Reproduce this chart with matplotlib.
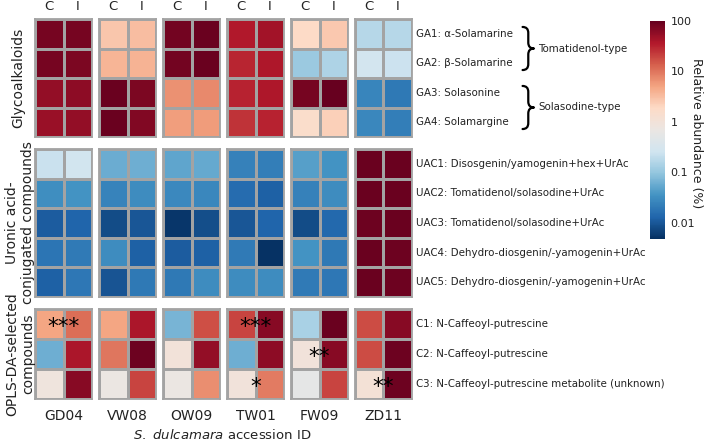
import numpy as np
import matplotlib
matplotlib.use("Agg")
import matplotlib.pyplot as plt
from matplotlib.colors import LogNorm, LinearSegmentedColormap
from matplotlib.path import Path
from matplotlib.patches import PathPatch

plt.rcParams['font.family'] = ['DejaVu Sans']

accessions = ["GD04", "VW08", "OW09", "TW01", "FW09", "ZD11"]
treatments = ["C", "I"]

ga_labels = ["GA1: α-Solamarine", "GA2: β-Solamarine", "GA3: Solasonine", "GA4: Solamargine"]
uac_labels = ["UAC1: Disosgenin/yamogenin+hex+UrAc",
              "UAC2: Tomatidenol/solasodine+UrAc",
              "UAC3: Tomatidenol/solasodine+UrAc",
              "UAC4: Dehydro-diosgenin/-yamogenin+UrAc",
              "UAC5: Dehydro-diosgenin/-yamogenin+UrAc"]
opls_labels = ["C1: N-Caffeoyl-putrescine", "C2: N-Caffeoyl-putrescine",
               "C3: N-Caffeoyl-putrescine metabolite (unknown)"]
ga_groups = [(0, 2, "Tomatidenol-type"), (2, 4, "Solasodine-type")]

# columns: GD04 C, GD04 I, VW08 C, VW08 I, OW09 C, OW09 I, TW01 C, TW01 I, FW09 C, FW09 I, ZD11 C, ZD11 I
ga_values = [
    [80, 80, 2.8, 3.2, 85, 95, 37, 45, 1.9, 2.6, 0.17, 0.17],
    [80, 75, 3.7, 3.9, 85, 95, 30, 38, 0.11, 0.15, 0.28, 0.24],
    [55, 60, 95, 75, 6.8, 7.5, 32, 38, 80, 100, 0.026, 0.02],
    [50, 55, 95, 70, 5.5, 5.8, 25, 32, 1.6, 2.3, 0.027, 0.022],
]
uac_values = [
    [0.23, 0.27, 0.058, 0.06, 0.05, 0.055, 0.024, 0.022, 0.045, 0.035, 95, 95],
    [0.032, 0.035, 0.025, 0.03, 0.028, 0.027, 0.015, 0.012, 0.024, 0.03, 95, 95],
    [0.011, 0.013, 0.008, 0.01, 0.0055, 0.0085, 0.01, 0.013, 0.008, 0.014, 92, 95],
    [0.018, 0.021, 0.03, 0.012, 0.011, 0.012, 0.021, 0.005, 0.035, 0.02, 95, 90],
    [0.012, 0.019, 0.0095, 0.02, 0.02, 0.03, 0.03, 0.03, 0.021, 0.019, 95, 92],
]
opls_values = [
    [5, 11, 5, 40, 0.07, 17, 20, 65, 0.14, 95, 18, 65],
    [0.06, 40, 10, 90, 1.0, 55, 0.06, 60, 0.95, 65, 18, 90],
    [0.85, 65, 0.7, 20, 0.7, 7, 0.95, 9, 0.55, 20, 1.1, 90],
]
# significance marks: (accession, row in OPLS block, text)
stars = [("GD04", 0, "***"), ("TW01", 0, "***"), ("FW09", 1, "**"),
         ("TW01", 2, "*"), ("ZD11", 2, "**")]

cbar_ticks = [0.01, 0.1, 1, 10, 100]
cbar_ticklabels = ["0.01", "0.1", "1", "10", "100"]

W, H = 705, 442
fig = plt.figure(figsize=(W / 100, H / 100), dpi=100)
norm = LogNorm(vmin=0.0048, vmax=100)
cmap = LinearSegmentedColormap.from_list(
    "rdbu_gray",
    ["#053061", "#2166ac", "#4393c3", "#92c5de", "#d1e5f0", "#ebe6e3",
     "#fddbc7", "#f4a582", "#d6604d", "#b2182b", "#67001f"])
grid_col = "#a3a3a3"
txt_col = "#222222"

def ax_px(x, y, w, h):
    return fig.add_axes([x / W, 1 - (y + h) / H, w / W, h / H])

blocks = [
    (ga_values, ga_labels, 19, 137),
    (uac_values, uac_labels, 149, 297),
    (opls_values, opls_labels, 309, 399),
]
panel_x0, panel_w, panel_step = 35, 57, 64

axes_grid = []
for bi, (vals, labels, y0, y1) in enumerate(blocks):
    arr = np.array(vals, dtype=float)
    nrow = arr.shape[0]
    row_axes = []
    for pi, acc in enumerate(accessions):
        ax = ax_px(panel_x0 + pi * panel_step, y0, panel_w, y1 - y0)
        sub = arr[:, 2 * pi:2 * pi + 2]
        ax.pcolormesh(np.arange(3), np.arange(nrow + 1), sub, cmap=cmap, norm=norm,
                      edgecolors=grid_col, linewidth=1.0)
        ax.set_xlim(0, 2)
        ax.set_ylim(nrow, 0)
        ax.set_xticks([])
        ax.set_yticks([])
        for s in ax.spines.values():
            s.set_color(grid_col)
            s.set_linewidth(1.3)
        if bi == 0:
            for ti, t in enumerate(treatments):
                ax.text(ti + 0.5, -0.2, t, ha="center", va="bottom", fontsize=9.5,
                        color=txt_col, clip_on=False)
        if bi == 2:
            ax.text(1, nrow + 0.32, acc, ha="center", va="top", fontsize=10,
                    color=txt_col, clip_on=False)
            for sacc, srow, stext in stars:
                if sacc == acc:
                    ax.text(1, srow + 0.6, stext, ha="center", va="center",
                            fontsize=15.5, color="black", clip_on=False)
        if pi == len(accessions) - 1:
            for ri, lab in enumerate(labels):
                ax.text(2.15, ri + 0.5, lab, ha="left", va="center", fontsize=7.4,
                        color=txt_col, clip_on=False)
        row_axes.append(ax)
    axes_grid.append(row_axes)

# curly braces for glycoalkaloid groups
last_ga = axes_grid[0][-1]

def brace(ax, r0, r1, xb, label):
    ytop, ybot = r0 + 0.27, r1 - 0.27
    ym = (ytop + ybot) / 2
    h, r = 0.2, 0.2
    verts = [
        (xb - h, ytop), (xb, ytop), (xb, ytop + r),
        (xb, ym - r),
        (xb, ym), (xb + h, ym),
        (xb, ym), (xb, ym + r),
        (xb, ybot - r),
        (xb, ybot), (xb - h, ybot),
    ]
    codes = [Path.MOVETO, Path.CURVE3, Path.CURVE3, Path.LINETO,
             Path.CURVE3, Path.CURVE3, Path.CURVE3, Path.CURVE3,
             Path.LINETO, Path.CURVE3, Path.CURVE3]
    patch = PathPatch(Path(verts, codes), facecolor="none", edgecolor="black",
                      lw=1.6, clip_on=False, capstyle="round", joinstyle="round")
    ax.add_patch(patch)
    ax.text(xb + h + 0.15, ym, label, ha="left", va="center", fontsize=7.4,
            color=txt_col, clip_on=False)

for r0, r1, lab in ga_groups:
    brace(last_ga, r0, r1, 6.08, lab)

# left group labels
fig.text(18 / W, 1 - 78 / H, "Glycoalkaloids", rotation=90, ha="center", va="center",
         fontsize=10, color=txt_col)
fig.text(20 / W, 1 - 223 / H, "Uronic acid-\nconjugated compounds", rotation=90,
         ha="center", va="center", fontsize=10, color=txt_col, linespacing=1.2)
fig.text(20 / W, 1 - 354 / H, "OPLS-DA-selected\ncompounds", rotation=90,
         ha="center", va="center", fontsize=10, color=txt_col, linespacing=1.2)

# x label
fig.text(222 / W, 1 - 435 / H, r"$\it{S.\ dulcamara}$ accession ID", ha="center",
         va="center", fontsize=9.5, color=txt_col)

# colorbar
cax = ax_px(650, 21, 15, 218)
sm = matplotlib.cm.ScalarMappable(norm=norm, cmap=cmap)
cb = fig.colorbar(sm, cax=cax)
cb.outline.set_visible(False)
cb.set_ticks(cbar_ticks)
cb.set_ticklabels(cbar_ticklabels)
cb.ax.minorticks_off()
cb.ax.tick_params(length=0, labelsize=8, pad=4, colors=txt_col)
fig.text(696 / W, 1 - 133 / H, "Relative abundance (%)", rotation=270, ha="center",
         va="center", fontsize=9, color=txt_col)

fig.savefig("out.png", dpi=100)
